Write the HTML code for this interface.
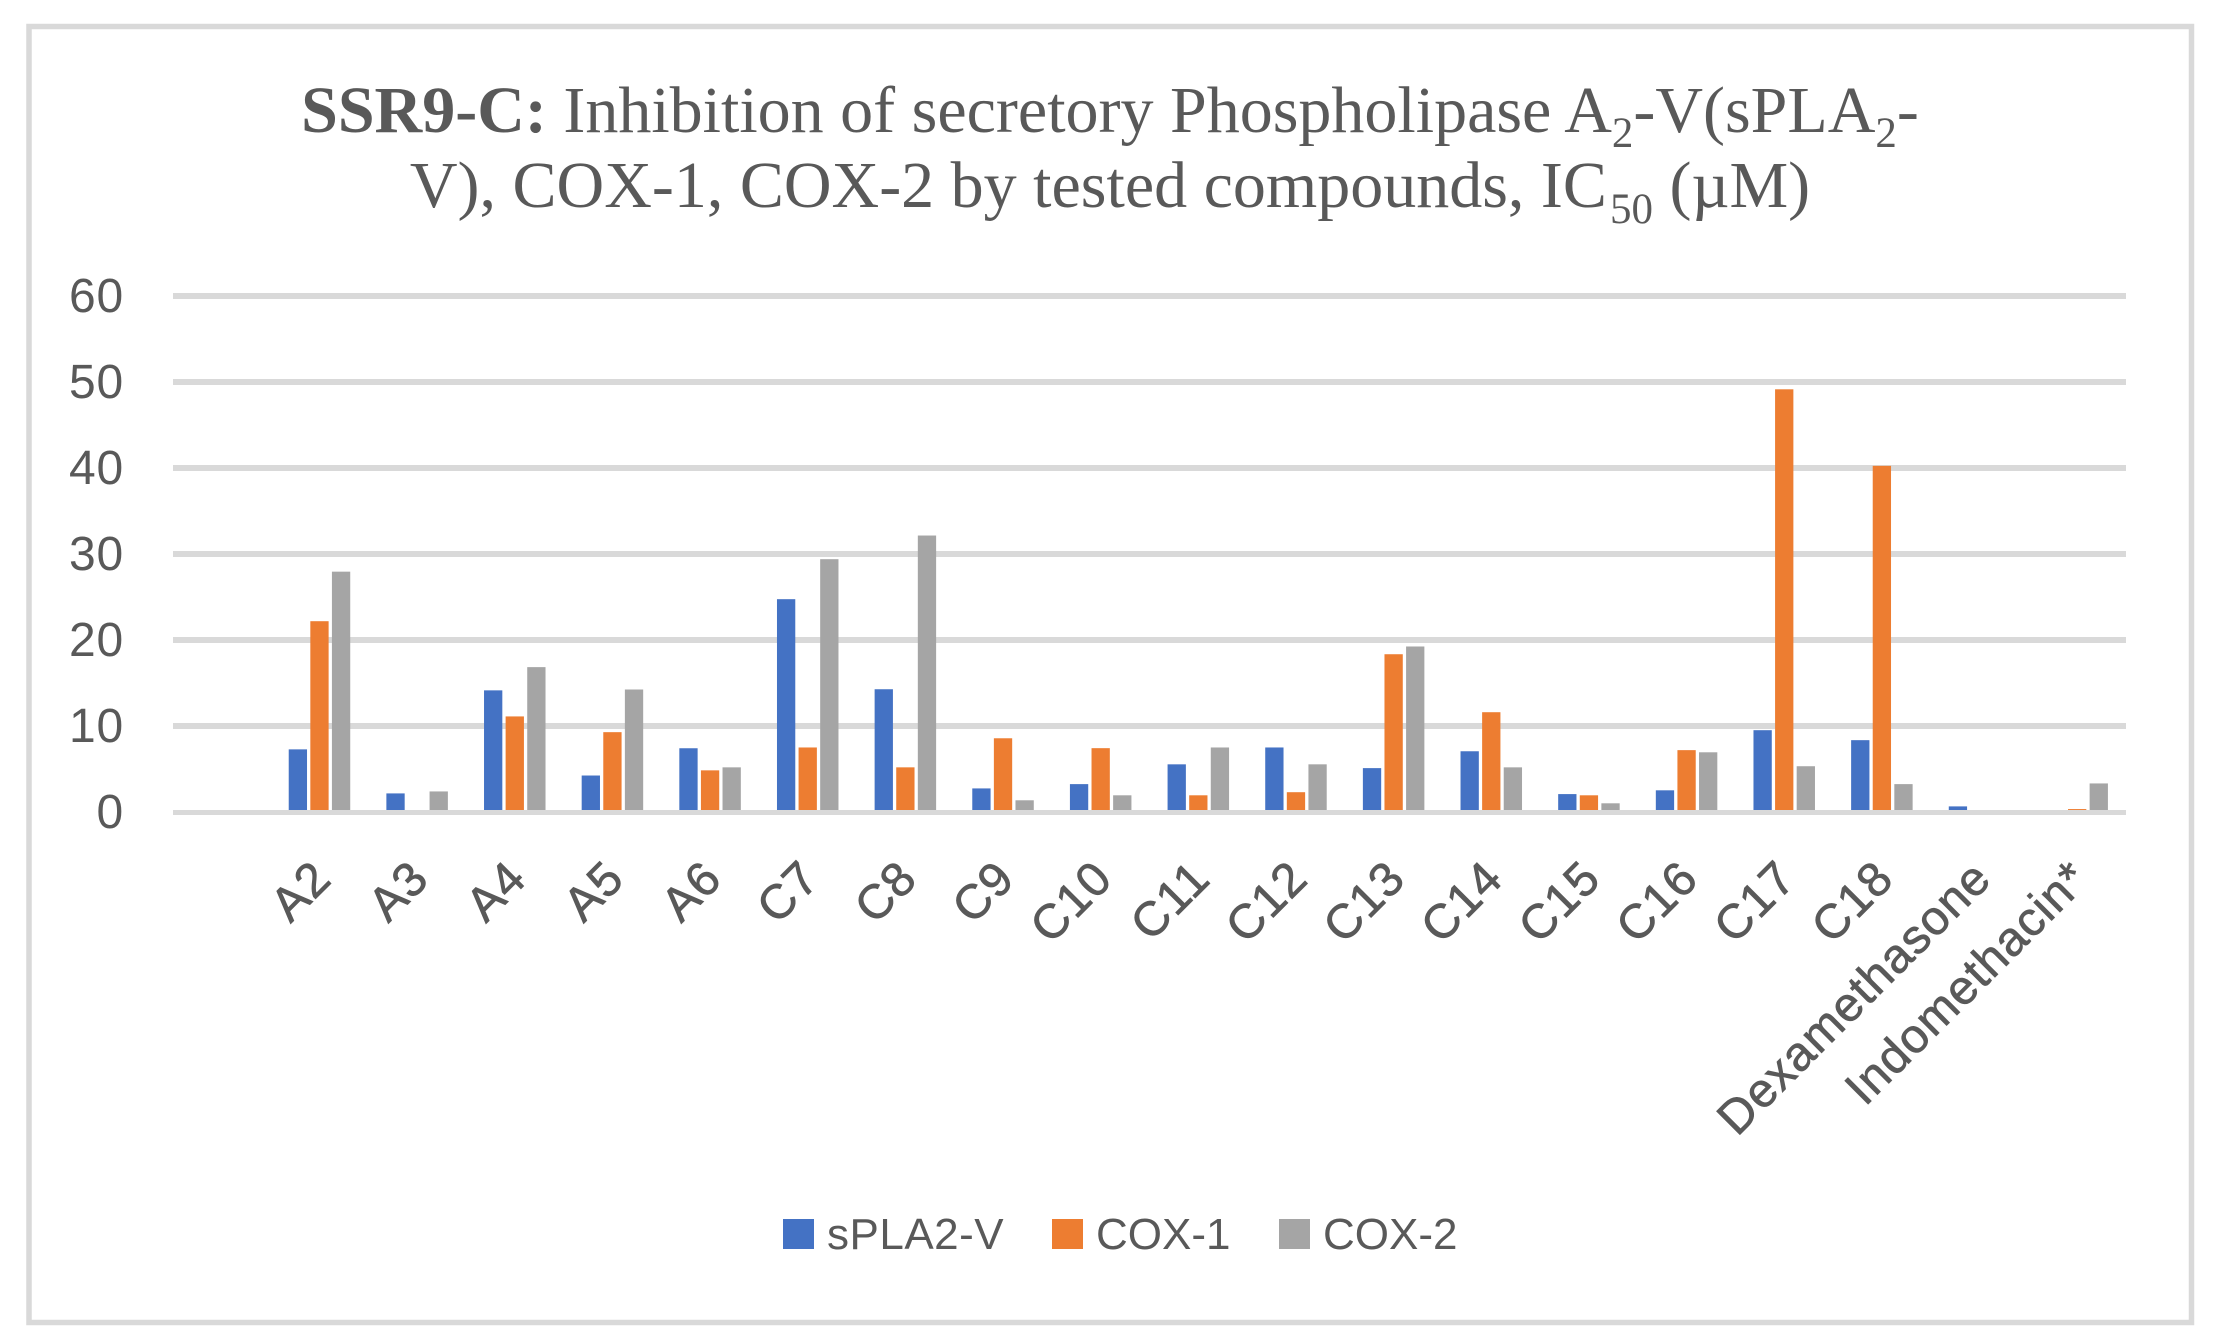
<!DOCTYPE html>
<html lang="en">
<head>
<meta charset="utf-8">
<title>SSR9-C inhibition chart</title>
<style>
html,body{margin:0;padding:0;background:#fff;}
svg{display:block;}
text{font-family:"Liberation Sans",sans-serif;fill:#595959;}
.title{font-family:"Liberation Serif",serif;font-size:66px;}
</style>
</head>
<body>
<svg id="chart" xmlns="http://www.w3.org/2000/svg" width="2225" height="1339" viewBox="0 0 2225 1339">
  <rect x="0" y="0" width="2225" height="1339" fill="#fff"/>
  <rect x="29" y="26.5" width="2162.5" height="1296" fill="#fff" stroke="#d9d9d9" stroke-width="5.5"/>
  <text class="title" x="1110" y="132" text-anchor="middle"><tspan font-weight="bold">SSR9-C:</tspan> Inhibition of secretory Phospholipase A<tspan font-size="43" dy="15">2</tspan><tspan dy="-15">-V(sPLA</tspan><tspan font-size="43" dy="15">2</tspan><tspan dy="-15">-</tspan></text>
  <text class="title" x="1110" y="207" text-anchor="middle">V), COX-1, COX-2 by tested compounds, IC<tspan font-size="43" dy="16" dx="3">50</tspan><tspan dy="-16"> (µM)</tspan></text>
  <g id="grid"></g>
  <g id="bars"></g>
  <g id="axis"></g>
  <g id="legend"></g>
</svg>
<script>
const categories = ["", "A2", "A3", "A4", "A5", "A6", "C7", "C8", "C9", "C10", "C11", "C12", "C13", "C14", "C15", "C16", "C17", "C18", "Dexamethasone", "Indomethacin*"];
const splaValues = [0, 7.34, 2.22, 14.2, 4.3, 7.47, 24.8, 14.33, 2.8, 3.3, 5.6, 7.56, 5.16, 7.12, 2.14, 2.58, 9.57, 8.41, 0.71, 0];
const cox1Values = [0, 22.24, 0, 11.17, 9.34, 4.9, 7.56, 5.25, 8.63, 7.48, 2.0, 2.36, 18.4, 11.66, 2.0, 7.25, 49.2, 40.3, 0, 0.4];
const cox2Values = [0, 28.0, 2.45, 16.9, 14.3, 5.25, 29.45, 32.2, 1.42, 2.0, 7.56, 5.6, 19.3, 5.25, 1.07, 7.0, 5.38, 3.3, 0, 3.38];
const yTicks = [0, 10, 20, 30, 40, 50, 60];
const seriesNames = ["sPLA2-V", "COX-1", "COX-2"];

const NS = "http://www.w3.org/2000/svg";
const plotLeft = 173, plotRight = 2126, plotTop = 296.4, plotZero = 812.5, yMax = 60;
const colors = ["#4472c4", "#ed7d31", "#a5a5a5"];
const allSeries = [splaValues, cox1Values, cox2Values];
const barWidth = 18.3, barStep = 21.6;

function xCenter(i) {
  return plotLeft + (plotRight - plotLeft) * (i + 0.5) / categories.length;
}
function yScale(v) {
  return plotZero - (plotZero - plotTop) * v / yMax;
}
function make(tag, parent, attrs) {
  const el = document.createElementNS(NS, tag);
  for (const k in attrs) el.setAttribute(k, attrs[k]);
  parent.appendChild(el);
  return el;
}

const grid = document.getElementById("grid");
const barsG = document.getElementById("bars");
const axisG = document.getElementById("axis");
const legendG = document.getElementById("legend");

yTicks.forEach(function (t) {
  const y = yScale(t);
  if (t !== 0) {
    const line = make("rect", grid, { x: plotLeft, y: Math.round(y) - 3, width: plotRight - plotLeft, height: 6, fill: "#d9d9d9" });
    
    
  }
  const label = make("text", axisG, { x: 124, y: y + 15.5, "text-anchor": "end", "font-size": 48, "letter-spacing": 0.8 });
  
  
  label.textContent = String(t);
});

allSeries.forEach(function (values, s) {
  values.forEach(function (v, i) {
    const top = yScale(v);
    const bar = make("rect", barsG, {
      x: xCenter(i) - barWidth / 2 + (s - 1) * barStep,
      y: top,
      width: barWidth,
      height: Math.max(0, plotZero - top),
      fill: colors[s]
    });
    
    
  });
});

const axisLine = make("rect", axisG, { x: plotLeft, y: plotZero - 2.5, width: plotRight - plotLeft, height: 5, fill: "#d9d9d9" });



categories.forEach(function (c, i) {
  if (!c) return;
  const cx = xCenter(i) + 14, cy = 881;
  const label = make("text", axisG, {
    x: cx, y: cy, "text-anchor": "end", "font-size": 48, "letter-spacing": 1,
    stroke: "#595959", "stroke-width": 0.7,
    transform: "rotate(-45 " + cx + " " + cy + ")"
  });
  
  
  label.textContent = c;
});

const legendSwatchX = [783, 1052, 1279];
seriesNames.forEach(function (name, s) {
  const entry = make("g", legendG, {});
  
  
  const swatch = make("rect", entry, { x: legendSwatchX[s], y: 1219, width: 31, height: 30, fill: colors[s] });
  
  
  const text = make("text", entry, { x: legendSwatchX[s] + 44, y: 1249, "font-size": 44, "letter-spacing": s === 0 ? 0.5 : 0 });
  
  
  text.textContent = name;
});
</script>
</body>
</html>
